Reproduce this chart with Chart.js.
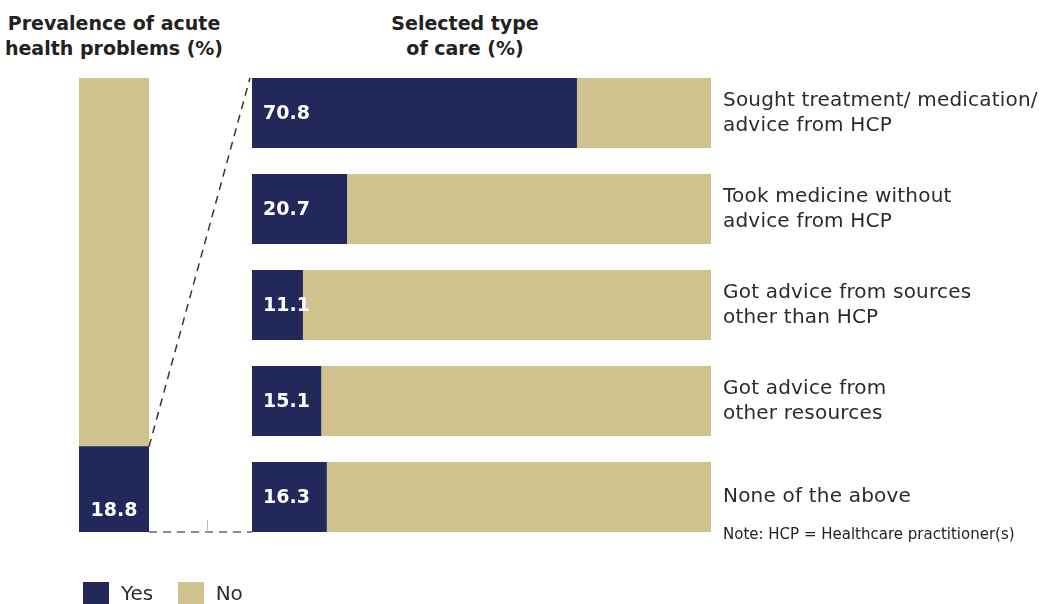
<!DOCTYPE html>
<html>
<head>
<meta charset="utf-8">
<script src="https://cdn.jsdelivr.net/npm/chart.js@4.4.1/dist/chart.umd.min.js"></script>
<style>
    html, body { margin: 0; padding: 0; background: #fff; }
    #page {
        position: relative;
        width: 1041px;
        height: 604px;
        overflow: hidden;
        font-family: "DejaVu Sans", sans-serif;
        color: #2b2b2b;
    }
    .title {
        position: absolute;
        top: 11px;
        font-weight: bold;
        font-size: 19px;
        line-height: 25px;
        text-align: center;
        color: #222;
    }
    .box { position: absolute; }
    #note {
        position: absolute;
        left: 723px;
        top: 525px;
        font-size: 15px;
        color: #222;
    }
    #legend {
        position: absolute;
        left: 83px;
        top: 581px;
        font-size: 20px;
        line-height: 23px;
        color: #2b2b2b;
    }
    #legend span { display: inline-block; vertical-align: middle; }
    #legend .swatch { width: 26px; height: 23px; margin-right: 12px; }
    #legend .name { margin-right: 18px; }
</style>
</head>
<body>
<div id="page">
    <div class="title" style="left:0; width:228px;">Prevalence of acute<br>health problems (%)</div>
    <div class="title" style="left:365px; width:200px;">Selected type<br>of care (%)</div>

    <div class="box" style="left:79px; top:78px; width:70px; height:454px;">
        <canvas id="prevalenceChart"></canvas>
    </div>
    <div class="box" style="left:252px; top:65px; width:789px; height:480px;">
        <canvas id="careChart"></canvas>
    </div>
    <canvas id="links" width="1041" height="604" style="position:absolute; left:0; top:0; pointer-events:none;"></canvas>

    <div id="note">Note: HCP = Healthcare practitioner(s)</div>

    <div id="legend">
        <span class="swatch" style="background:#22285a"></span><span class="name">Yes</span>
        <span class="swatch" style="background:#cfc28e"></span><span class="name">No</span>
    </div>
</div>

<script>
// Data
const prevalenceYes = [18.8];
const prevalenceNo = [81.2];

const careTypes = [
    ['Sought treatment/ medication/', 'advice from HCP'],
    ['Took medicine without', 'advice from HCP'],
    ['Got advice from sources', 'other than HCP'],
    ['Got advice from', 'other resources'],
    ['None of the above']
];
const careYes = [70.8, 20.7, 11.1, 15.1, 16.3];
const careNo = [29.2, 79.3, 88.9, 84.9, 83.7];

const NAVY = '#22285a';
const TAN = '#cfc28e';
const FONT = '"DejaVu Sans", sans-serif';

// White value labels on the "Yes" segments
const yesLabels = {
    id: 'yesLabels',
    afterDatasetsDraw(chart, args, opts) {
        const ctx = chart.ctx;
        const meta = chart.getDatasetMeta(0);
        ctx.save();
        ctx.fillStyle = '#fff';
        ctx.font = 'bold 19px ' + FONT;
        meta.data.forEach((bar, i) => {
            const value = chart.data.datasets[0].data[i].toFixed(1);
            if (opts.vertical) {
                ctx.textAlign = 'center';
                ctx.textBaseline = 'middle';
                ctx.fillText(value, bar.x, bar.base - 21);
            } else {
                ctx.textAlign = 'left';
                ctx.textBaseline = 'middle';
                ctx.fillText(value, bar.base + 11, bar.y + 1);
            }
        });
        ctx.restore();
    }
};

// Category names to the right of each bar, one line per array entry
const categoryLabels = {
    id: 'categoryLabels',
    afterDraw(chart) {
        const ctx = chart.ctx;
        const yScale = chart.scales.y;
        const x = chart.chartArea.right + 12;
        const lineH = 25;
        ctx.save();
        ctx.fillStyle = '#2b2b2b';
        ctx.font = '20px ' + FONT;
        ctx.letterSpacing = '0.2px';
        ctx.textAlign = 'left';
        ctx.textBaseline = 'middle';
        chart.data.labels.forEach((lines, i) => {
            const cy = yScale.getPixelForValue(i);
            const y0 = cy - (lines.length - 1) * lineH / 2;
            lines.forEach((line, j) => ctx.fillText(line, x, y0 + j * lineH));
        });
        ctx.restore();
    }
};

const prevalenceChart = new Chart(document.getElementById('prevalenceChart'), {
    type: 'bar',
    data: {
        labels: ['Acute health problems'],
        datasets: [
            { label: 'Yes', data: prevalenceYes, backgroundColor: NAVY },
            { label: 'No', data: prevalenceNo, backgroundColor: TAN }
        ]
    },
    options: {
        responsive: true,
        maintainAspectRatio: false,
        animation: false,
        layout: { padding: 0 },
        barPercentage: 1,
        categoryPercentage: 1,
        plugins: {
            legend: { display: false },
            tooltip: { enabled: false },
            yesLabels: { vertical: true }
        },
        scales: {
            x: { stacked: true, display: false },
            y: { stacked: true, display: false, min: 0, max: 100 }
        }
    },
    plugins: [yesLabels]
});

const careChart = new Chart(document.getElementById('careChart'), {
    type: 'bar',
    data: {
        labels: careTypes,
        datasets: [
            { label: 'Yes', data: careYes, backgroundColor: NAVY },
            { label: 'No', data: careNo, backgroundColor: TAN }
        ]
    },
    options: {
        indexAxis: 'y',
        responsive: true,
        maintainAspectRatio: false,
        animation: false,
        layout: { padding: { left: 0, top: 0, bottom: 0, right: 330 } },
        barPercentage: 70 / 96,
        categoryPercentage: 1,
        plugins: {
            legend: { display: false },
            tooltip: { enabled: false },
            yesLabels: { vertical: false }
        },
        scales: {
            x: { stacked: true, display: false, min: 0, max: 100 },
            y: { stacked: true, display: false }
        }
    },
    plugins: [yesLabels, categoryLabels]
});

// Dashed connectors from the "Yes" segment to the breakdown bars
function drawLinks() {
    const ctx = document.getElementById('links').getContext('2d');
    const left = prevalenceChart.getDatasetMeta(0).data[0];
    const first = careChart.getDatasetMeta(0).data[0];
    const last = careChart.getDatasetMeta(0).data[careYes.length - 1];

    const lx = 79 + left.x + left.width / 2;
    const topY = 78 + left.y;
    const bottomY = 78 + left.base;
    const rx = 252 + first.base;
    const rTop = 65 + first.y - first.height / 2;
    const rBottom = 65 + last.y + last.height / 2;

    ctx.lineWidth = 1.5;
    ctx.setLineDash([8, 6]);
    ctx.strokeStyle = '#333';
    ctx.beginPath();
    ctx.moveTo(lx, topY);
    ctx.lineTo(rx - 2, rTop);
    ctx.stroke();

    ctx.strokeStyle = '#666';
    ctx.beginPath();
    ctx.moveTo(lx, bottomY);
    ctx.lineTo(rx, rBottom);
    ctx.stroke();

    ctx.setLineDash([]);
    ctx.strokeStyle = '#bbb';
    ctx.lineWidth = 1;
    ctx.beginPath();
    ctx.moveTo(207.5, bottomY - 12);
    ctx.lineTo(207.5, bottomY);
    ctx.stroke();
}
drawLinks();
</script>
</body>
</html>
